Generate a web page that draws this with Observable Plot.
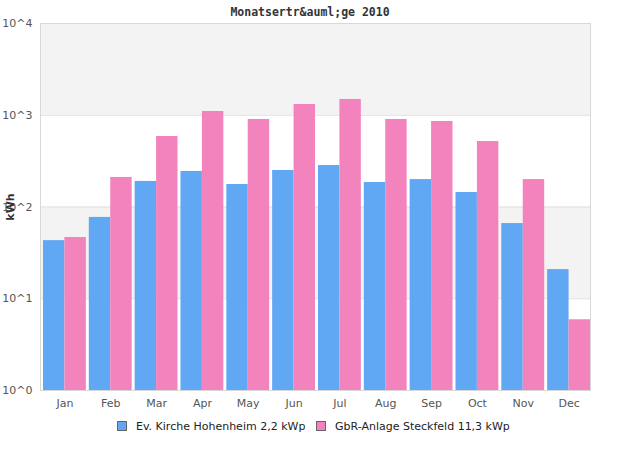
<!DOCTYPE html>
<html>
<head>
<meta charset="utf-8">
<script src="https://cdn.jsdelivr.net/npm/d3@7"></script>
<script src="https://cdn.jsdelivr.net/npm/@observablehq/plot@0.6"></script>
<style>
  body { margin: 0; background: white; width: 620px; height: 450px; position: relative; overflow: hidden; }
  #chart { position: absolute; left: 0; top: 0; }
  #title { position: absolute; left: 0; width: 620px; top: 5px; text-align: center;
           font: bold 11.5px "DejaVu Sans Mono", monospace; color: #333; }
  #ylabel { position: absolute; left: 10px; top: 207px; transform: translate(-50%, -50%) rotate(-90deg);
            font: bold 11px "DejaVu Sans", sans-serif; color: #333; white-space: nowrap; }
  #legend { position: absolute; top: 420px; left: 0; width: 620px; font: 11px "DejaVu Sans", sans-serif; color: #222; }
  .item { position: absolute; top: 0; white-space: nowrap; line-height: 14px; }
  .sw { display: inline-block; width: 8px; height: 8px; border: 1px solid #666; vertical-align: -1px; margin-right: 9px; }
</style>
</head>
<body>
<div id="chart"></div>
<div id="title"></div>
<div id="ylabel"></div>
<div id="legend"></div>
<script>
const titleText = "Monatsertr&auml;ge 2010";
const yLabel = "kWh";
const months = ["Jan","Feb","Mar","Apr","May","Jun","Jul","Aug","Sep","Oct","Nov","Dec"];
const seriesNames = ["Ev. Kirche Hohenheim 2,2 kWp", "GbR-Anlage Steckfeld 11,3 kWp"];
const kirche = [43, 77, 190, 244, 176, 250, 283, 185, 199, 144, 66, 20.8];
const gbr = [46.5, 210, 587, 1099, 899, 1310, 1485, 899, 855, 517, 199, 5.9];
const yTicks = [1, 10, 100, 1000, 10000];
const grayBands = [[1000, 10000], [10, 100]];
const colors = ["#60a8f4", "#f283bc"];

document.getElementById("title").textContent = titleText;
document.getElementById("ylabel").textContent = yLabel;

const rowsA = months.map((m, i) => ({month: m, value: kirche[i]}));
const rowsB = months.map((m, i) => ({month: m, value: gbr[i]}));

const half = 21.43;

const plot = Plot.plot({
  width: 620,
  height: 410,
  marginLeft: 40,
  marginRight: 30,
  marginTop: 23,
  marginBottom: 20,
  style: {fontFamily: "DejaVu Sans", fontSize: "11px", color: "#555", background: "white"},
  x: {domain: months, round: false, paddingInner: 0.065, paddingOuter: 0.0325, align: 1, label: null, tickSize: 0, tickPadding: 9},
  y: {type: "log", domain: [1, 10000], ticks: yTicks, tickFormat: d => "10^" + Math.round(Math.log10(d)), label: null, tickSize: 0, tickPadding: 8},
  marks: [
    Plot.rect(grayBands, {y1: d => d[0], y2: d => d[1], fill: "#f3f3f3"}),
    Plot.ruleY(yTicks, {stroke: "#e0e0e0"}),
    Plot.barY(rowsA, {x: "month", y1: () => 1, y2: "value", fill: colors[0], insetRight: half}),
    Plot.barY(rowsB, {x: "month", y1: () => 1, y2: "value", fill: colors[1], insetLeft: half}),
    Plot.frame({stroke: "#d8d8d8"})
  ]
});
document.getElementById("chart").appendChild(plot);

const legend = document.getElementById("legend");
const lx = [117, 316];
seriesNames.forEach((name, i) => {
  const it = document.createElement("div");
  it.className = "item";
  it.style.left = lx[i] + "px";
  const sw = document.createElement("span");
  sw.className = "sw";
  sw.style.background = colors[i];
  it.appendChild(sw);
  it.appendChild(document.createTextNode(name));
  legend.appendChild(it);
});
</script>
</body>
</html>
